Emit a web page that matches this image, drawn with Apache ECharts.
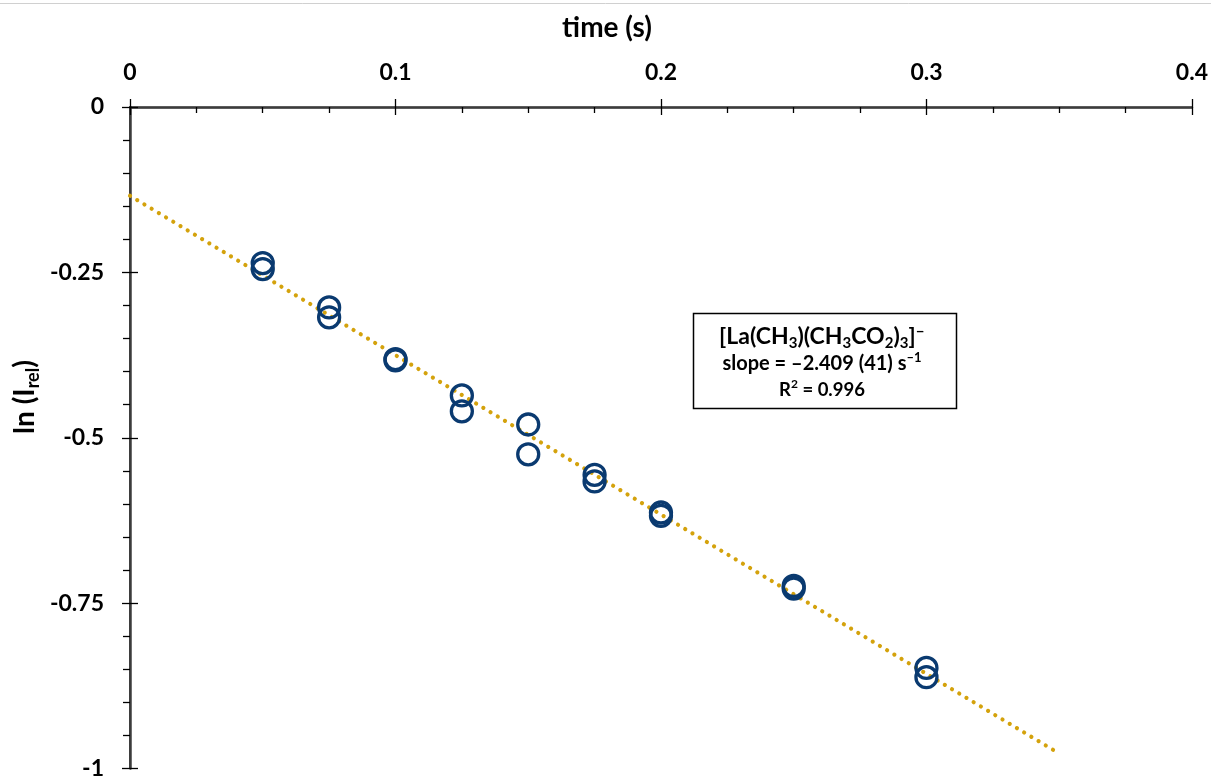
<!DOCTYPE html>
<html>
<head>
<meta charset="utf-8">
<style>
  html, body { margin: 0; padding: 0; background: #fff; }
  #chart { width: 1211px; height: 780px; }
</style>
<script src="https://cdn.jsdelivr.net/npm/echarts@6/dist/echarts.min.js"></script>
</head>
<body>
<div id="chart"></div>
<script>
// Measured decay: time (s) and ln of relative intensity
const timeS = [0.05, 0.05, 0.075, 0.075, 0.1, 0.1, 0.125, 0.125, 0.15, 0.15,
               0.175, 0.175, 0.2, 0.2, 0.25, 0.25, 0.3, 0.3];
const lnIrel = [-0.236, -0.245, -0.303, -0.318, -0.381, -0.383, -0.436, -0.460, -0.480, -0.525,
                -0.556, -0.566, -0.613, -0.618, -0.724, -0.728, -0.848, -0.862];

// Axis ranges / tick steps
const xTicks = [0, 0.1, 0.2, 0.3, 0.4];
const yTicks = [0, -0.25, -0.5, -0.75, -1];

// Fit: slope reported in the legend box, intercept through the data centroid
const fitSlope = -2.409;
const fitRange = [0, 0.35];

const FONT = 'Lato, "Open Sans", sans-serif';
const NAVY = '#0a3a70';
const GOLD = '#d4a20c';

const meanX = timeS.reduce((a, b) => a + b, 0) / timeS.length;
const meanY = lnIrel.reduce((a, b) => a + b, 0) / lnIrel.length;
const fitIntercept = meanY - fitSlope * meanX;
const fitLine = fitRange.map(x => [x, fitIntercept + fitSlope * x]);

const points = timeS.map((t, i) => [t, lnIrel[i]]);

const xMin = xTicks[0], xMax = xTicks[xTicks.length - 1], xStep = xTicks[1] - xTicks[0];
const yMin = yTicks[yTicks.length - 1], yMax = yTicks[0], yStep = yTicks[0] - yTicks[1];

const chart = echarts.init(document.getElementById('chart'), null, { renderer: 'canvas' });

const baseX = { type: 'value', min: xMin, max: xMax, interval: xStep, splitLine: { show: false } };
const baseY = { type: 'value', min: yMin, max: yMax, interval: yStep, splitLine: { show: false } };

const rt = (size, extra) => Object.assign({
  fontFamily: FONT, fontWeight: 'bold', fontSize: size, lineHeight: Math.round(size * 1.3),
  fill: '#000', color: '#000'
}, extra || {});

chart.setOption({
  animation: false,
  backgroundColor: '#ffffff',
  grid: { left: 130, top: 107, right: 19, bottom: 9, containLabel: false },
  xAxis: [
    Object.assign({}, baseX, {
      position: 'top',
      axisLine: { show: true, lineStyle: { color: '#000', width: 1.3 } },
      axisTick: { show: true, inside: true, length: 8, lineStyle: { color: '#000', width: 1.3 } },
      minorTick: { show: true, splitNumber: 4, length: 6, lineStyle: { color: '#000', width: 1.3 } },
      axisLabel: { show: true, margin: 23, color: '#000', fontFamily: FONT, fontWeight: 'bold', fontSize: 23 }
    }),
    Object.assign({}, baseX, {
      position: 'top',
      axisLine: { show: false },
      axisTick: { show: true, inside: false, length: 8, lineStyle: { color: '#000', width: 1.3 } },
      axisLabel: { show: false }
    }),
    Object.assign({}, baseX, {
      position: 'bottom',
      axisLine: { show: true, lineStyle: { color: '#3c3c3c', width: 2.5 } },
      axisTick: { show: false },
      axisLabel: { show: false }
    })
  ],
  yAxis: [
    Object.assign({}, baseY, {
      position: 'left',
      axisLine: { show: true, lineStyle: { color: '#000', width: 1.5 } },
      axisTick: { show: true, inside: false, length: 8, lineStyle: { color: '#000', width: 1.3 } },
      minorTick: { show: true, splitNumber: 5, length: 7, lineStyle: { color: '#000', width: 1.3 } },
      axisLabel: { show: true, margin: 26, color: '#000', fontFamily: FONT, fontWeight: 'bold', fontSize: 23 }
    }),
    Object.assign({}, baseY, {
      position: 'left',
      axisLine: { show: false },
      axisTick: { show: true, inside: true, length: 8, lineStyle: { color: '#000', width: 1.3 } },
      axisLabel: { show: false }
    }),
    Object.assign({}, baseY, {
      position: 'right',
      axisLine: { show: true, lineStyle: { color: '#3c3c3c', width: 2.5 } },
      axisTick: { show: false },
      axisLabel: { show: false }
    })
  ],
  series: [
    {
      type: 'line',
      xAxisIndex: 0,
      yAxisIndex: 0,
      data: fitLine,
      symbol: 'none',
      silent: true,
      z: 1,
      lineStyle: { color: GOLD, width: 4.2, type: [0.01, 8.4], cap: 'round' }
    },
    {
      type: 'scatter',
      xAxisIndex: 0,
      yAxisIndex: 0,
      data: points,
      symbol: 'circle',
      symbolSize: 21,
      z: 2,
      itemStyle: { color: 'rgba(0,0,0,0)', borderColor: NAVY, borderWidth: 3.3, opacity: 1 }
    }
  ],
  graphic: [
    {
      type: 'line',
      shape: { x1: 0, y1: 3.5, x2: 1211, y2: 3.5 },
      style: { stroke: '#d0d0d0', lineWidth: 1 },
      silent: true
    },
    {
      type: 'text',
      x: 607, y: 28,
      style: {
        text: 'time (s)', fill: '#000',
        font: 'bold 28px ' + FONT,
        align: 'center', verticalAlign: 'middle',
        textAlign: 'center', textVerticalAlign: 'middle'
      }
    },
    {
      type: 'text',
      x: 25, y: 397,
      rotation: Math.PI / 2,
      style: {
        text: '{a|ln (I}{s|rel}{a|)}',
        fill: '#000',
        align: 'center', verticalAlign: 'middle',
        textAlign: 'center', textVerticalAlign: 'middle',
        rich: {
          a: rt(28, { lineHeight: 34 }),
          s: rt(18, { lineHeight: 16, verticalAlign: 'bottom' })
        }
      }
    },
    {
      type: 'rect',
      shape: { x: 693.5, y: 313.5, width: 263, height: 95 },
      style: { fill: '#fff', stroke: '#000', lineWidth: 1.5 },
      z: 10
    },
    {
      type: 'text',
      x: 822, y: 337, z: 11,
      style: {
        text: '{a|[La(CH}{b|3}{a|)(CH}{b|3}{a|CO}{b|2}{a|)}{b|3}{a|]}{c|–}',
        align: 'center', verticalAlign: 'middle',
        textAlign: 'center', textVerticalAlign: 'middle',
        rich: {
          a: rt(23, { lineHeight: 28 }),
          b: rt(15, { lineHeight: 13, verticalAlign: 'bottom' }),
          c: rt(16, { lineHeight: 13, verticalAlign: 'top' })
        }
      }
    },
    {
      type: 'text',
      x: 822, y: 364, z: 11,
      style: {
        text: '{a|slope = –2.409 (41) s}{c|–1}',
        align: 'center', verticalAlign: 'middle',
        textAlign: 'center', textVerticalAlign: 'middle',
        rich: {
          a: rt(20, { lineHeight: 26 }),
          c: rt(13, { lineHeight: 13, verticalAlign: 'top' })
        }
      }
    },
    {
      type: 'text',
      x: 822, y: 390, z: 11,
      style: {
        text: '{a|R}{c|2}{a| = 0.996}',
        align: 'center', verticalAlign: 'middle',
        textAlign: 'center', textVerticalAlign: 'middle',
        rich: {
          a: rt(18.5, { lineHeight: 24 }),
          c: rt(12, { lineHeight: 13, verticalAlign: 'top' })
        }
      }
    }
  ]
});
</script>
</body>
</html>
